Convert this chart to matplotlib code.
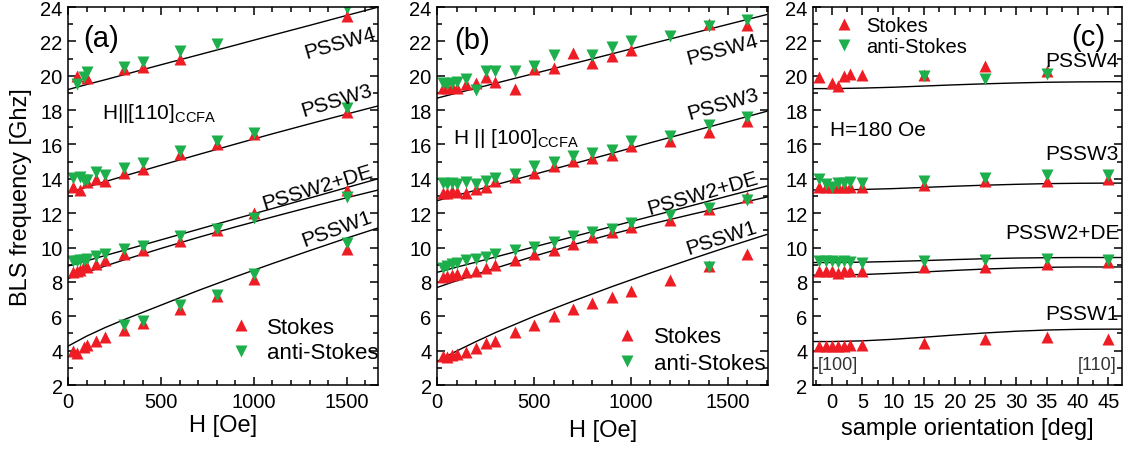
import numpy as np
import matplotlib
matplotlib.use("Agg")
import matplotlib.pyplot as plt
from matplotlib.ticker import MultipleLocator

plt.rcParams['font.family'] = ['Liberation Sans', 'DejaVu Sans']
plt.rcParams['mathtext.fontset'] = 'custom'
plt.rcParams['mathtext.rm'] = 'Liberation Sans'

nan = np.nan
RED = '#EE1D25'
GREEN = '#1DAF4B'

# (a) field along [110]
a_field = [25, 45, 65, 85, 100, 150, 200, 300, 400, 600, 800, 1000, 1500]
a_pssw4_s = [nan, 20.0, nan, nan, 19.85, nan, nan, 20.4, 20.5, 21.0, nan, nan, 23.5]
a_pssw4_as = [nan, 19.5, nan, 19.9, 20.2, nan, nan, 20.5, 20.8, 21.45, 21.85, nan, 23.95]
a_pssw3_s = [13.5, nan, 13.35, nan, 13.8, 14.0, 13.9, 14.35, 14.55, 15.45, 16.0, 16.6, 17.9]
a_pssw3_as = [14.05, nan, 14.1, 13.95, 13.95, 14.4, 14.2, 14.65, 14.9, 15.6, 16.2, 16.65, 18.1]
a_pssw2_s = [8.55, 8.65, 8.7, 8.9, 8.85, 9.05, 9.3, 9.6, 9.85, 10.4, 11.05, 12.0, 13.35]
a_pssw2_as = [9.2, 9.2, 9.3, 9.3, 9.35, 9.5, 9.6, 9.9, 10.1, 10.7, 11.1, 11.7, 12.95]
a_pssw1_s = [4.0, 3.85, nan, 4.2, 4.3, 4.55, 4.8, 5.2, 5.6, 6.45, 7.2, 8.15, 9.9]
a_pssw1_as = [nan, nan, nan, nan, nan, nan, nan, 5.5, 5.75, 6.65, 7.25, 8.45, 10.25]

# model curves, (a) and (b) share the field grid
curve_field = [0, 100, 200, 300, 500, 700, 900, 1100, 1300, 1500, 1700]
a_fit_pssw4 = [19.2, 19.49, 19.77, 20.06, 20.64, 21.21, 21.78, 22.36, 22.93, 23.51, 24.08]
a_fit_pssw3 = [13.2, 13.52, 13.84, 14.16, 14.79, 15.41, 16.02, 16.62, 17.2, 17.77, 18.33]
a_fit_de = [8.93, 9.23, 9.54, 9.84, 10.45, 11.06, 11.67, 12.27, 12.88, 13.49, 14.1]
a_fit_pssw2 = [8.2, 8.57, 8.93, 9.28, 9.95, 10.59, 11.2, 11.78, 12.35, 12.9, 13.43]
a_fit_pssw1 = [4.27, 4.85, 5.35, 5.8, 6.65, 7.5, 8.3, 9.07, 9.82, 10.55, 11.25]

# (b) field along [100]
b_field = [30, 50, 75, 100, 150, 200, 250, 300, 400, 500, 600, 700, 800, 900, 1000, 1200, 1400, 1600]
b_pssw4_s = [19.3, 19.3, 19.35, 19.3, 19.5, 19.55, 19.9, 19.65, 19.2, 20.4, 20.45, 21.3, 20.75, 21.15, 21.5, nan, 23.0, 22.95]
b_pssw4_as = [19.55, 19.5, 19.55, 19.65, 19.8, 19.15, 20.3, 20.3, 20.3, 20.55, 21.2, nan, 21.2, 21.65, 22.0, 22.3, 22.9, 23.25]
b_pssw3_s = [13.15, 13.15, 13.3, 13.25, 13.2, 13.4, 13.55, 13.9, 14.1, 14.35, 14.75, 15.05, 15.2, 15.4, 15.9, 16.2, 16.7, 17.35]
b_pssw3_as = [13.75, 13.7, 13.75, 13.7, 13.8, 13.7, 13.85, 14.05, 14.3, 14.75, 14.95, 15.35, 15.5, 15.7, 16.2, 16.5, 17.15, 17.6]
b_pssw2_s = [8.3, 8.35, 8.4, 8.45, 8.55, 8.65, 8.8, 9.0, 9.3, 9.6, 9.85, 10.2, 10.6, 10.9, 11.2, 11.6, 12.25, 12.95]
b_pssw2_as = [8.8, 8.95, 9.05, 9.1, 9.25, 9.35, 9.45, 9.6, 9.85, 10.05, 10.3, 10.65, 10.9, 11.1, 11.4, 11.9, 12.3, 12.75]
b_pssw1_s = [3.67, 3.65, 3.75, 3.8, 3.9, 4.14, 4.43, 4.55, 5.1, 5.5, 6.0, 6.45, 6.75, 7.1, 7.5, 8.1, 8.9, 9.6]
b_pssw1_as = [nan] * 16 + [8.85, nan]

b_fit_pssw4 = [18.7, 18.99, 19.27, 19.56, 20.13, 20.7, 21.27, 21.85, 22.42, 22.99, 23.56]
b_fit_pssw3 = [12.73, 13.04, 13.34, 13.65, 14.26, 14.87, 15.48, 16.1, 16.71, 17.32, 17.93]
b_fit_de = [8.56, 8.86, 9.15, 9.45, 10.04, 10.63, 11.22, 11.81, 12.4, 13.0, 13.58]
b_fit_pssw2 = [7.68, 8.07, 8.44, 8.8, 9.5, 10.16, 10.78, 11.36, 11.9, 12.42, 12.94]
b_fit_pssw1 = [3.38, 3.98, 4.53, 5.05, 6.0, 6.88, 7.72, 8.52, 9.29, 10.04, 10.76]

# (c) in-plane rotation at H = 180 Oe
c_angle = [-2, -1, 0, 1, 2, 3, 5, 15, 25, 35, 45]
c_pssw4_s = [19.9, nan, 19.6, 19.4, 20.0, 20.1, 20.05, 20.05, 20.55, 20.25, nan]
c_pssw4_as = [nan, nan, nan, nan, nan, nan, nan, 20.0, 19.8, 20.1, nan]
c_pssw3_s = [13.5, 13.5, 13.5, 13.5, 13.5, 13.5, 13.5, 13.65, 13.85, 13.85, 14.0]
c_pssw3_as = [14.0, 13.7, 13.5, 13.75, 13.75, 13.8, 13.75, 13.85, 14.05, 14.2, 14.25]
c_pssw2_s = [8.65, 8.65, 8.65, 8.5, 8.65, 8.65, 8.65, 8.85, 8.85, 9.05, 9.15]
c_pssw2_as = [9.2, 9.2, 9.2, 9.15, 9.2, 9.15, 9.1, 9.2, 9.3, 9.35, 9.3]
c_pssw1_s = [4.27, 4.27, 4.25, 4.25, 4.27, 4.3, 4.33, 4.45, 4.7, 4.8, 4.7]

c_fit_angle = [-3.1, 0, 5, 10, 15, 20, 25, 30, 35, 40, 45, 47.5]
c_fit_pssw4 = [19.25, 19.25, 19.28, 19.33, 19.4, 19.47, 19.53, 19.58, 19.62, 19.64, 19.65, 19.65]
c_fit_pssw3 = [13.35, 13.35, 13.38, 13.43, 13.5, 13.57, 13.63, 13.68, 13.72, 13.74, 13.75, 13.75]
c_fit_de = [9.13, 9.13, 9.15, 9.19, 9.24, 9.3, 9.35, 9.39, 9.41, 9.42, 9.42, 9.42]
c_fit_pssw2 = [8.39, 8.4, 8.43, 8.5, 8.58, 8.67, 8.75, 8.81, 8.85, 8.87, 8.87, 8.87]
c_fit_pssw1 = [4.53, 4.53, 4.57, 4.66, 4.78, 4.91, 5.03, 5.13, 5.2, 5.24, 5.25, 5.25]


def style_axis(ax, xlim, xmajor, xminor):
    ax.set_xlim(*xlim)
    ax.set_ylim(2, 24)
    ax.xaxis.set_major_locator(MultipleLocator(xmajor))
    ax.xaxis.set_minor_locator(MultipleLocator(xminor))
    ax.yaxis.set_major_locator(MultipleLocator(2))
    ax.yaxis.set_minor_locator(MultipleLocator(1))
    ax.tick_params(which='both', direction='in', top=True, right=True,
                   labelsize=14.5, width=1.1)
    ax.tick_params(which='major', length=6)
    ax.tick_params(which='minor', length=3.5)
    ax.tick_params(axis='x', pad=5)
    ax.tick_params(axis='y', pad=4)
    for spine in ax.spines.values():
        spine.set_linewidth(1.1)


def plot_points(ax, x, pairs):
    for i, (stokes, anti) in enumerate(pairs):
        ax.plot(x, stokes, linestyle='none', marker='^', ms=9, color=RED,
                mec='none', label='Stokes' if i == 0 else None)
        ax.plot(x, anti, linestyle='none', marker='v', ms=9, color=GREEN,
                mec='none', label='anti-Stokes' if i == 0 else None)


def plot_fits(ax, x, fits):
    for f in fits:
        ax.plot(x, f, color='black', lw=1.0)


fig = plt.figure(figsize=(11.32, 4.52), dpi=100)
ax_a = fig.add_axes([0.0603, 0.146, 0.2739, 0.8363])
ax_b = fig.add_axes([0.3863, 0.146, 0.2924, 0.8363])
ax_c = fig.add_axes([0.7182, 0.146, 0.2727, 0.8363])

# panel (a)
plot_fits(ax_a, curve_field, [a_fit_pssw4, a_fit_pssw3, a_fit_de, a_fit_pssw2, a_fit_pssw1])
plot_points(ax_a, a_field, [(a_pssw2_s, a_pssw2_as), (a_pssw4_s, a_pssw4_as),
                            (a_pssw3_s, a_pssw3_as), (a_pssw1_s, a_pssw1_as)])
style_axis(ax_a, (0, 1670), 500, 100)
ax_a.set_xlabel('H [Oe]', fontsize=17, labelpad=2)
ax_a.text(175, 22.2, '(a)', fontsize=21, ha='center', va='center')
ax_a.text(180, 17.85, r'H||[110]$_{\mathrm{CCFA}}$', fontsize=15, ha='left', va='center')
ax_a.text(1462, 21.9, 'PSSW4', fontsize=15, rotation=16, ha='center', va='center')
ax_a.text(1446, 18.6, 'PSSW3', fontsize=15, rotation=17, ha='center', va='center')
ax_a.text(1341, 13.55, 'PSSW2+DE', fontsize=15, rotation=17, ha='center', va='center')
ax_a.text(1449, 11.1, 'PSSW1', fontsize=15, rotation=20, ha='center', va='center')
ax_a.legend(loc='upper left', bbox_to_anchor=(0.52, 0.18), frameon=False, fontsize=16,
            handlelength=1.0, handletextpad=0.7, labelspacing=0.2,
            borderpad=0, borderaxespad=0)

# panel (b)
plot_fits(ax_b, curve_field, [b_fit_pssw4, b_fit_pssw3, b_fit_de, b_fit_pssw2, b_fit_pssw1])
plot_points(ax_b, b_field, [(b_pssw2_s, b_pssw2_as), (b_pssw4_s, b_pssw4_as),
                            (b_pssw3_s, b_pssw3_as), (b_pssw1_s, b_pssw1_as)])
style_axis(ax_b, (0, 1708), 500, 100)
ax_b.set_xlabel('H [Oe]', fontsize=17, labelpad=6)
ax_b.text(178, 22.08, '(b)', fontsize=21, ha='center', va='center')
ax_b.text(83, 16.43, r'H || [100]$_{\mathrm{CCFA}}$', fontsize=15, ha='left', va='center')
ax_b.text(1468, 21.55, 'PSSW4', fontsize=15, rotation=15, ha='center', va='center')
ax_b.text(1472, 18.35, 'PSSW3', fontsize=15, rotation=16, ha='center', va='center')
ax_b.text(1372, 13.2, 'PSSW2+DE', fontsize=15, rotation=16, ha='center', va='center')
ax_b.text(1468, 10.6, 'PSSW1', fontsize=15, rotation=18, ha='center', va='center')
ax_b.legend(loc='upper left', bbox_to_anchor=(0.541, 0.155), frameon=False, fontsize=16,
            handlelength=1.0, handletextpad=0.7, labelspacing=0.25,
            borderpad=0, borderaxespad=0)

# panel (c)
plot_fits(ax_c, c_fit_angle, [c_fit_pssw4, c_fit_pssw3, c_fit_de, c_fit_pssw2, c_fit_pssw1])
plot_points(ax_c, c_angle, [(c_pssw2_s, c_pssw2_as), (c_pssw4_s, c_pssw4_as),
                            (c_pssw3_s, c_pssw3_as), (c_pssw1_s, [nan] * len(c_angle))])
style_axis(ax_c, (-3.04, 47.18), 5, 2.5)
ax_c.set_xlabel('sample orientation [deg]', fontsize=17, labelpad=4)
ax_c.text(41.7, 22.28, '(c)', fontsize=21, ha='center', va='center')
ax_c.text(-0.3, 16.85, 'H=180 Oe', fontsize=15, ha='left', va='center')
ax_c.text(46.6, 20.9, 'PSSW4', fontsize=15, ha='right', va='center')
ax_c.text(46.6, 15.5, 'PSSW3', fontsize=15, ha='right', va='center')
ax_c.text(46.9, 10.9, 'PSSW2+DE', fontsize=15, ha='right', va='center')
ax_c.text(46.6, 6.19, 'PSSW1', fontsize=15, ha='right', va='center')
ax_c.text(-2.2, 3.22, '[100]', fontsize=13, color='#333333', ha='left', va='center')
ax_c.text(46.4, 3.22, '[110]', fontsize=13, color='#333333', ha='right', va='center')
ax_c.legend(loc='upper left', bbox_to_anchor=(0.068, 0.975), frameon=False, fontsize=14.5,
            handlelength=1.0, handletextpad=0.6, labelspacing=0.1,
            borderpad=0, borderaxespad=0)

fig.text(21.5 / 1132, 1 - 197 / 452, 'BLS frequency [Ghz]', fontsize=17,
         rotation=90, ha='center', va='center')

fig.savefig('out.png', dpi=100)
